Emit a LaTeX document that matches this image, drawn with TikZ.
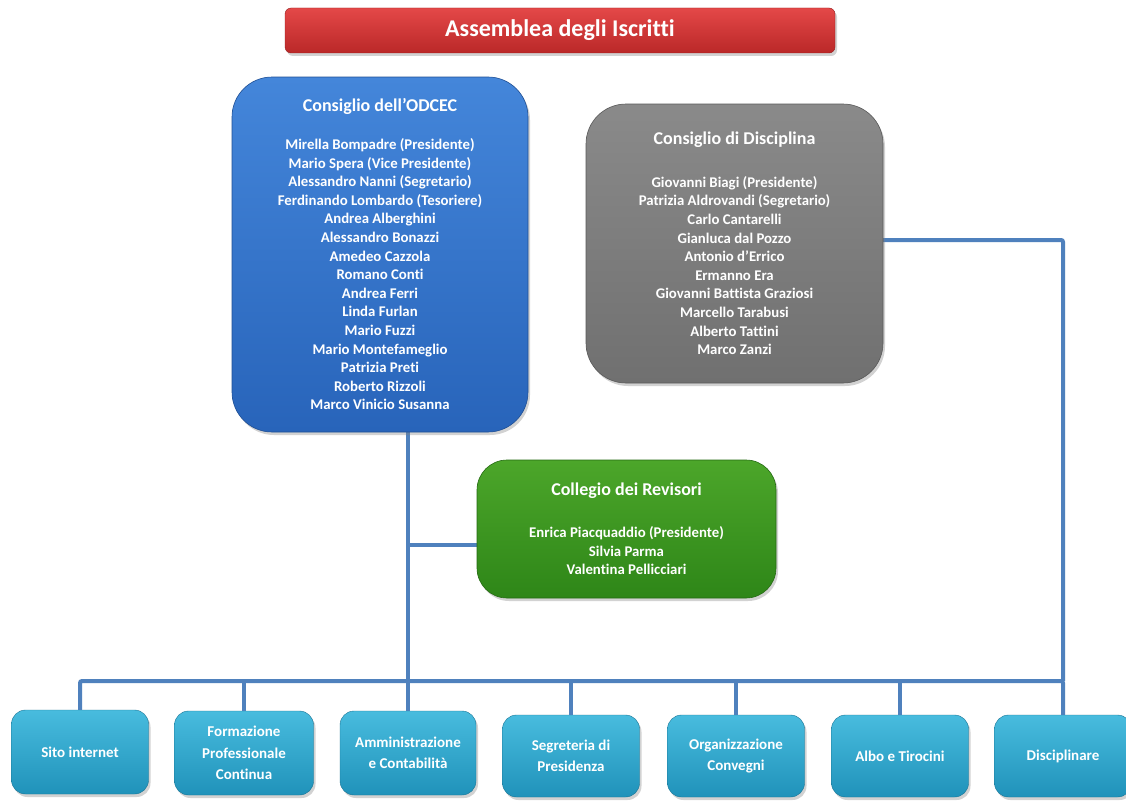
\documentclass[tikz,border=0pt]{standalone}
\usepackage{fontspec}
\setmainfont{Carlito}[Ligatures=NoCommon]
\usetikzlibrary{shadows}
\definecolor{conncol}{RGB}{79,129,189}
\definecolor{redA}{RGB}{228,72,72}
\definecolor{redB}{RGB}{186,40,40}
\definecolor{blueA}{RGB}{68,134,218}
\definecolor{blueB}{RGB}{40,100,186}
\definecolor{grayA}{RGB}{138,138,138}
\definecolor{grayB}{RGB}{112,112,112}
\definecolor{greenA}{RGB}{76,166,42}
\definecolor{greenB}{RGB}{46,134,24}
\definecolor{cyanA}{RGB}{72,188,222}
\definecolor{cyanB}{RGB}{32,146,186}
\tikzset{
  boxbase/.style={text=white, font=\bfseries, align=center, inner sep=0pt,
    drop shadow={shadow xshift=2pt, shadow yshift=-3pt, opacity=0.35}},
  titlebox/.style={boxbase, top color=redA, bottom color=redB, draw=redB!80!black,
    rounded corners=6pt, minimum width=550pt, minimum height=45pt, font=\bfseries\fontsize{24}{28}\selectfont},
  bigbox/.style={boxbase, rounded corners=40pt, line width=0.6pt,
    font=\bfseries\fontsize{14.8}{18.6}\selectfont},
  odcec/.style={bigbox, top color=blueA, bottom color=blueB, draw=blueB!80!black},
  discip/.style={bigbox, top color=grayA, bottom color=grayB, draw=grayB!80!black},
  revis/.style={bigbox, rounded corners=30pt, top color=greenA, bottom color=greenB, draw=greenB!80!black},
  unitbox/.style={boxbase, top color=cyanA, bottom color=cyanB, draw=cyanB!80!black,
    rounded corners=14pt, minimum width=137pt, minimum height=84pt,
    font=\bfseries\fontsize{15}{21.5}\selectfont},
  conn/.style={draw=conncol, line width=4pt, rounded corners=2pt}
}
\newcommand{\hd}[1]{{\fontsize{18}{20}\selectfont #1}}
\begin{document}
\begin{tikzpicture}[x=1pt,y=-1pt]
\useasboundingbox (0,0) rectangle (1126,800);
\fill[white] (0,0) rectangle (1126,800);

\coordinate (bus) at (0,681);
\coordinate (gj) at (0,240);
\coordinate (rj) at (0,545);

\node[titlebox] (assemblea) at (560,30.5) {Assemblea degli Iscritti};

\node[unitbox] (sito) at (80,752) {Sito internet};
\node[unitbox, minimum width=139pt] (form) at (244,753) {Formazione\\Professionale\\Continua};
\node[unitbox, minimum width=136pt] (amm) at (408,753) {Amministrazione\\e Contabilità};
\node[unitbox, minimum height=82pt] (segr) at (571,756) {Segreteria di\\Presidenza};
\node[unitbox, minimum height=82pt] (org) at (736,756) {Organizzazione\\Convegni};
\node[unitbox, minimum height=82pt] (albo) at (900,756) {Albo e Tirocini};
\node[unitbox, minimum height=82pt] (disc) at (1063,756) {Disciplinare};

\draw[conn] (amm.north |- 0,430) -- (amm.north);
\draw[conn] (sito.north) |- (disc.north |- bus) -- (disc.north);
\draw[conn] (form.north) -- (form.north |- bus);
\draw[conn] (segr.north) -- (segr.north |- bus);
\draw[conn] (org.north) -- (org.north |- bus);
\draw[conn] (albo.north) -- (albo.north |- bus);
\draw[conn] (880,240) -- (disc.north |- gj) -- (disc.north |- bus);
\draw[conn] (amm.north |- rj) -- (480,545);

\node[odcec, minimum width=296pt, minimum height=355pt] (odcec) at (380,254.5)
  {\hd{Consiglio dell’ODCEC}\\[19pt]
   Mirella Bompadre (Presidente)\\
   Mario Spera (Vice Presidente)\\
   Alessandro Nanni (Segretario)\\
   Ferdinando Lombardo (Tesoriere)\\
   Andrea Alberghini\\
   Alessandro Bonazzi\\
   Amedeo Cazzola\\
   Romano Conti\\
   Andrea Ferri\\
   Linda Furlan\\
   Mario Fuzzi\\
   Mario Montefameglio\\
   Patrizia Preti\\
   Roberto Rizzoli\\
   Marco Vinicio Susanna};

\node[discip, minimum width=297pt, minimum height=279pt] (cdd) at (734.5,243.5)
  {\hd{Consiglio di Disciplina}\\[24pt]
   Giovanni Biagi (Presidente)\\
   Patrizia Aldrovandi (Segretario)\\
   Carlo Cantarelli\\
   Gianluca dal Pozzo\\
   Antonio d’Errico\\
   Ermanno Era\\
   Giovanni Battista Graziosi\\
   Marcello Tarabusi\\
   Alberto Tattini\\
   Marco Zanzi};

\node[revis, minimum width=299pt, minimum height=138pt] (rev) at (626.5,529)
  {\hd{Collegio dei Revisori}\\[23pt]
   Enrica Piacquaddio (Presidente)\\
   Silvia Parma\\
   Valentina Pellicciari};
\end{tikzpicture}
\end{document}
